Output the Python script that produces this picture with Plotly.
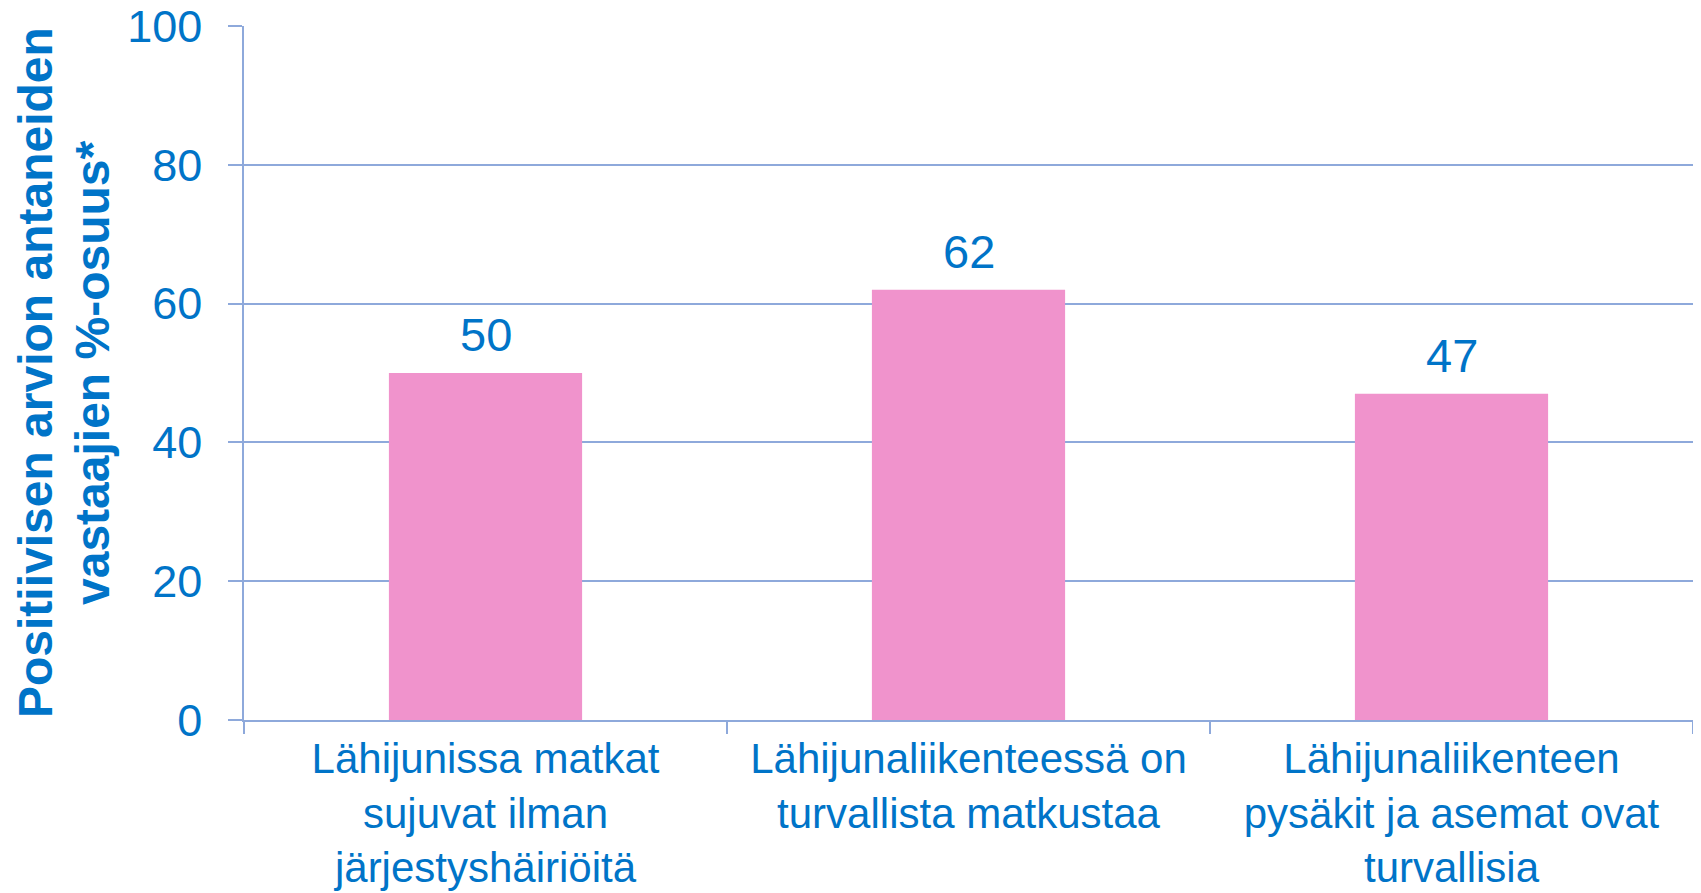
import plotly.graph_objects as go

categories = [
    "Lähijunissa matkat<br>sujuvat ilman<br>järjestyshäiriöitä",
    "Lähijunaliikenteessä on<br>turvallista matkustaa",
    "Lähijunaliikenteen<br>pysäkit ja asemat ovat<br>turvallisia",
]
values = [50, 62, 47]
y_ticks = [0, 20, 40, 60, 80, 100]
y_title_lines = ["Positiivisen arvion antaneiden", "vastaajien %-osuus*"]

BLUE = "#0074C8"
AXIS = "#8EA9DB"
PINK = "#F093CC"
FONT = "Liberation Sans, Arial, sans-serif"

fig = go.Figure(
    go.Bar(
        x=categories,
        y=values,
        marker=dict(color=PINK, line=dict(width=0)),
        width=0.4,
        cliponaxis=False,
    )
)

for c, v in zip(categories, values):
    fig.add_annotation(
        x=c, y=v, text=str(v), showarrow=False,
        yanchor="bottom", yshift=10,
        font=dict(family=FONT, size=47, color=BLUE),
    )

# y-axis title, two lines with tighter spacing than Plotly's default
for line, shift in zip(y_title_lines, [-209, -152]):
    fig.add_annotation(
        xref="paper", yref="paper", x=0, y=0.5,
        xanchor="center", yanchor="middle", xshift=shift,
        text=f"<b>{line}</b>", textangle=-90, showarrow=False,
        font=dict(family=FONT, size=48, color=BLUE),
    )

fig.update_layout(
    width=1701,
    height=893,
    margin=dict(l=236, r=16, t=18, b=181),
    plot_bgcolor="white",
    paper_bgcolor="white",
    showlegend=False,
    font=dict(family=FONT, color=BLUE),
)

fig.update_xaxes(
    type="category",
    range=[-0.5, 2.5],
    tickson="boundaries",
    ticks="outside",
    ticklen=12,
    tickwidth=1.5,
    tickcolor=AXIS,
    showline=True,
    linecolor=AXIS,
    linewidth=1.5,
    showgrid=False,
    tickfont=dict(family=FONT, size=42, color=BLUE),
    ticklabelstandoff=1,
    automargin=False,
)

fig.update_yaxes(
    range=[0, 100],
    tickvals=y_ticks,
    ticks="outside",
    ticklen=14,
    tickwidth=1.5,
    tickcolor=AXIS,
    showline=True,
    linecolor=AXIS,
    linewidth=1.5,
    showgrid=True,
    gridcolor=AXIS,
    gridwidth=1.5,
    zeroline=False,
    tickfont=dict(family=FONT, size=45, color=BLUE),
    ticklabelstandoff=17,
    ticklabeloverflow="allow",
    automargin=False,
)

fig.write_html("out.html")
